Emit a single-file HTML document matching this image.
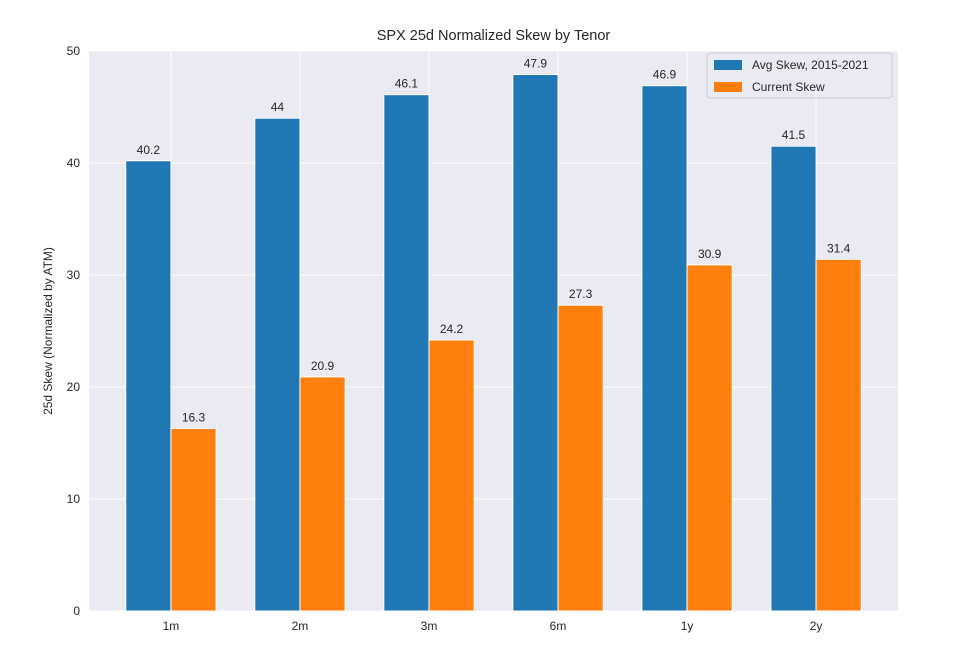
<!DOCTYPE html>
<html><head><meta charset="utf-8"><style>
body{margin:0;background:#fff;font-family:"Liberation Sans","DejaVu Sans",sans-serif}
</style></head><body>
<svg id="chart" width="955" height="664" xmlns="http://www.w3.org/2000/svg" font-family="Liberation Sans, DejaVu Sans, sans-serif"></svg>
<script>
const categories=["1m","2m","3m","6m","1y","2y"];
const avgSkew=[40.2,44,46.1,47.9,46.9,41.5];
const currentSkew=[16.3,20.9,24.2,27.3,30.9,31.4];
const yTicks=[0,10,20,30,40,50];
const svg=document.getElementById('chart');
const NS="http://www.w3.org/2000/svg";
const L=89,R=898,T=51,B=611;
const xmin=-0.635,xmax=categories.length-1+0.635;
const x=v=>L+(v-xmin)/(xmax-xmin)*(R-L);
const y=v=>B-(v/50)*(B-T);
const bw=0.35;
function el(tag,attrs,parent){const e=document.createElementNS(NS,tag);for(const k in attrs)e.setAttribute(k,attrs[k]);(parent||svg).appendChild(e);return e;}
const bg=el('rect',{x:L,y:T,width:R-L,height:B-T,fill:'#eaeaf2'});


yTicks.forEach(t=>{
 const g=el('line',{x1:L,x2:R,y1:y(t),y2:y(t),stroke:'#fff','stroke-width':1});
 
 
 const tx=el('text',{x:L-9,y:y(t)+4,'text-anchor':'end','font-size':12,fill:'#262626'});tx.textContent=t;
 
 
});
categories.forEach((c,i)=>{
 const g=el('line',{x1:x(i),x2:x(i),y1:T,y2:B,stroke:'#fff','stroke-width':1});
 
 
 const tx=el('text',{x:x(i),y:B+19,'text-anchor':'middle','font-size':12,fill:'#262626'});tx.textContent=c;
 
 
});
function bars(vals,off,color,name){
 vals.forEach((v,i)=>{
  const x0=x(i+off-bw/2),x1=x(i+off+bw/2);
  const r=el('rect',{x:x0,y:y(v),width:x1-x0,height:y(0)-y(v),fill:color,stroke:'#fff','stroke-width':1});
  
  
  const t=el('text',{x:(x0+x1)/2,y:y(v)-7,'text-anchor':'middle','font-size':12,fill:'#262626'});t.textContent=v;
  
  
 });
}
bars(avgSkew,-bw/2,'#1f77b4','avg-skew');
bars(currentSkew,bw/2,'#ff7f0e','current-skew');
const title=el('text',{x:(L+R)/2,y:40,'text-anchor':'middle','font-size':14.5,fill:'#262626'});title.textContent='SPX 25d Normalized Skew by Tenor';


const yl=el('text',{x:0,y:0,'text-anchor':'middle','font-size':12,fill:'#262626',transform:`translate(52,${(T+B)/2}) rotate(-90)`});yl.textContent='25d Skew (Normalized by ATM)';


const lg=el('g',{});


el('rect',{x:707,y:53,width:185,height:45,rx:3,fill:'#eaeaf2',stroke:'#ccc','stroke-width':1,'fill-opacity':0.8},lg);
[['Avg Skew, 2015-2021','#1f77b4',64],['Current Skew','#ff7f0e',86]].forEach(([n,c,yy])=>{
 const s=el('rect',{x:714,y:yy-4,width:28,height:10,fill:c},lg);
 
 
 const t=el('text',{x:752,y:yy+5,'font-size':12,fill:'#262626'},lg);t.textContent=n;
 
 
});
</script>
</body></html>
